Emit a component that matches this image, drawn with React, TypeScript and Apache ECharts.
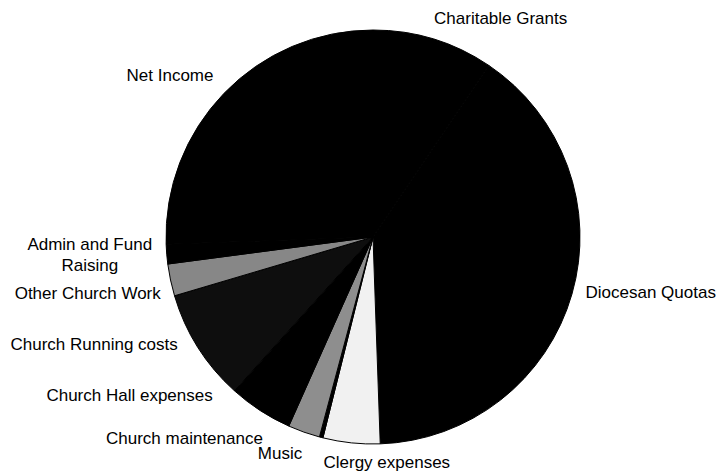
import React, { useEffect, useRef } from "react";
import * as echarts from "echarts";

const categories = [
  "Charitable Grants",
  "Diocesan Quotas",
  "Clergy expenses",
  "Music",
  "Church maintenance",
  "Church Hall expenses",
  "Church Running costs",
  "Other Church Work",
  "Admin and Fund Raising",
  "Net Income",
];
const values = [34, 144, 16, 1, 9, 18, 31.5, 9, 5.5, 92];
const fills = ["#000000", "#000000", "#f1f1f1", "#000000", "#8e8e8e", "#000000", "#0e0e0e", "#878787", "#000000", "#000000"];
// small nudges of each label from its default outside position (px)
const labelDx = [-8, -3, 105, -11, -32, -36, -5, 7, -60, 3];
const labelDy = [-9, -5, 8, 4, -5, -25, -9, 11, 0, -9];
const labelAlign = [null, null, null, null, null, null, null, null, "center", null];

export default function App() {
  const ref = useRef<HTMLDivElement>(null);
  useEffect(() => {
    document.body.style.margin = "0";
    const chart = echarts.init(ref.current!, null, { renderer: "svg" });
    chart.setOption({
      animation: false,
      backgroundColor: "#ffffff",
      series: [
        {
          type: "pie",
          center: [373, 237],
          radius: 207,
          startAngle: 90,
          clockwise: true,
          avoidLabelOverlap: false,
          itemStyle: { borderColor: "#000", borderWidth: 1 },
          label: {
            show: true,
            position: "outside",
            color: "#000",
            fontFamily: "Liberation Sans, Arial, sans-serif",
            fontSize: 17,
            lineHeight: 21,
            formatter: (p: any) => (p.name === "Admin and Fund Raising" ? "Admin and Fund\nRaising" : p.name),
          },
          labelLine: { show: false, length: 12, length2: 0 },
          labelLayout: (p: any) => {
            const i = p.dataIndex;
            const o: any = { hideOverlap: false, dx: labelDx[i], dy: labelDy[i] };
            if (labelAlign[i]) o.align = labelAlign[i];
            return o;
          },
          emphasis: { disabled: true },
          data: categories.map((c, i) => ({ name: c, value: values[i], itemStyle: { color: fills[i] } })),
        },
      ],
    });
    return () => chart.dispose();
  }, []);
  return <div ref={ref} style={{ position: "absolute", left: 0, top: 0, width: 716, height: 471 }} />;
}
